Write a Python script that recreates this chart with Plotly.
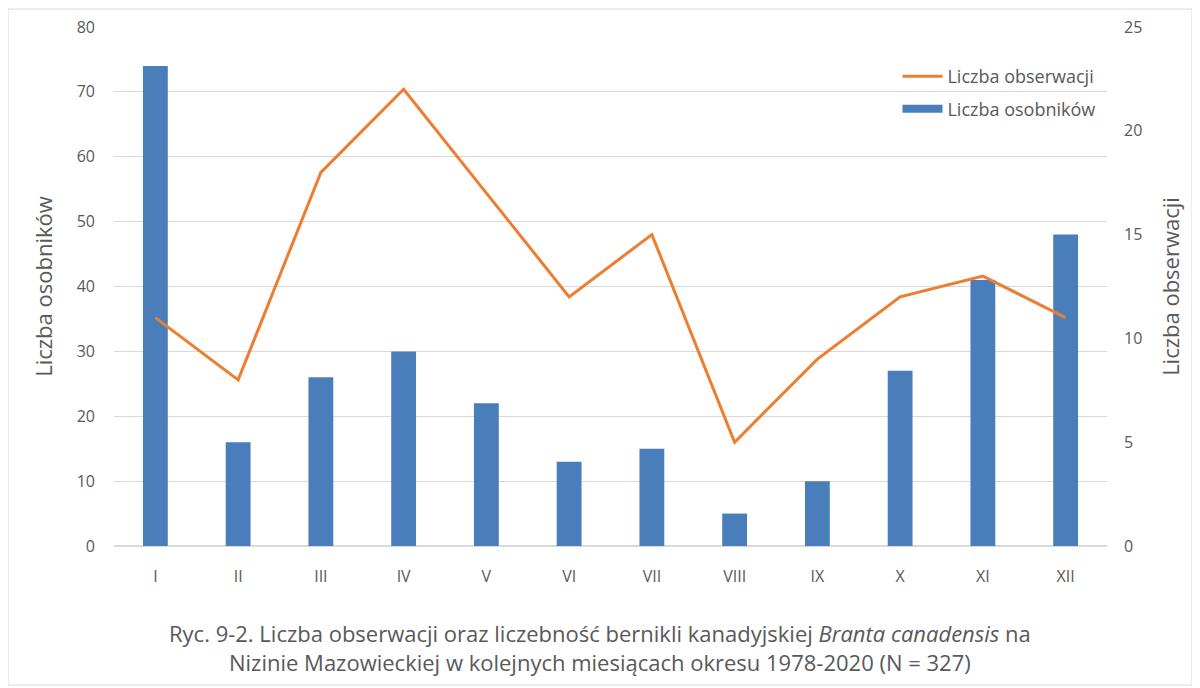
import plotly.graph_objects as go

months = ["I", "II", "III", "IV", "V", "VI", "VII", "VIII", "IX", "X", "XI", "XII"]
osobnikow = [74, 16, 26, 30, 22, 13, 15, 5, 10, 27, 41, 48]
obserwacji = [11, 8, 18, 22, 17, 12, 15, 5, 9, 12, 13, 11]
left_ticks = [0, 10, 20, 30, 40, 50, 60, 70, 80]
right_ticks = [0, 5, 10, 15, 20, 25]

FONT = "Open Sans"
GRAY = "#595959"
BLUE = "#4A7EBB"
ORANGE = "#ED7D31"

# screen-space plot box in the reference (page has 8px body margin)
PX0, PX1, PY0, PY1 = 114, 1107, 27, 546
PW, PH = PX1 - PX0, PY1 - PY0

fig = go.Figure()
fig.add_trace(go.Bar(
    x=months, y=osobnikow, name="Liczba osobników", showlegend=False,
    marker=dict(color=BLUE, line=dict(width=0)), width=0.3))
fig.add_trace(go.Scatter(
    x=months, y=obserwacji, name="Liczba obserwacji", yaxis="y2",
    mode="lines", line=dict(color=ORANGE, width=3),
    legendgroup="a", legendrank=1))
# legend entry for bars drawn as a wide block, like the reference
fig.add_trace(go.Scatter(
    x=[None], y=[None], name="Liczba osobników", mode="lines",
    line=dict(color=BLUE, width=8), legendgroup="b", legendrank=2))

fig.update_layout(
    width=1200, height=688,
    margin=dict(l=PX0 - 8, r=1200 - (PX1 - 8), t=PY0 - 8, b=688 - (PY1 - 8)),
    paper_bgcolor="white", plot_bgcolor="white",
    font=dict(family=FONT, color=GRAY, size=16),
    showlegend=True,
    legend=dict(x=0.789, y=0.94, xanchor="left", yanchor="top",
                bgcolor="rgba(0,0,0,0)", font=dict(size=18, color=GRAY),
                traceorder="grouped", tracegroupgap=6, itemwidth=40),
    xaxis=dict(showgrid=False, showline=False, ticks="", automargin=False,
               ticklabelstandoff=19, tickfont=dict(size=16, color=GRAY)),
    yaxis=dict(range=[0, 80], tickvals=left_ticks, showgrid=True, gridcolor="#D9D9D9",
               gridwidth=1, zeroline=True, zerolinecolor="#D9D9D9", showline=False,
               ticks="", ticklabelstandoff=18, automargin=False,
               title=dict(text="Liczba osobników", font=dict(size=22, color=GRAY), standoff=18),
               tickfont=dict(size=16, color=GRAY)),
    yaxis2=dict(range=[0, 25], tickvals=right_ticks, overlaying="y", side="right",
                showgrid=False, zeroline=False, showline=False, ticks="",
                ticklabelstandoff=16, automargin=False,
                title=dict(text="Liczba obserwacji", font=dict(size=22, color=GRAY), standoff=22),
                tickfont=dict(size=16, color=GRAY)),
    bargap=0.7,
)

fig.add_shape(type="rect", xref="paper", yref="paper",
              x0=(8 - PX0) / PW, x1=(1192 - PX0) / PW,
              y0=(PY1 - 685) / PH, y1=(PY1 - 9) / PH,
              line=dict(color="#D9D9D9", width=1), layer="below")

fig.add_annotation(
    xref="paper", yref="paper", x=(600 - PX0) / PW, y=(PY1 - 616) / PH,
    xanchor="center", yanchor="top", showarrow=False, align="center",
    text="Ryc. 9-2. Liczba obserwacji oraz liczebność bernikli kanadyjskiej <i>Branta canadensis</i> na<br>Nizinie Mazowieckiej w kolejnych miesiącach okresu 1978-2020 (N = 327)",
    font=dict(family=FONT, size=22, color=GRAY))

fig.write_html("out.html")
